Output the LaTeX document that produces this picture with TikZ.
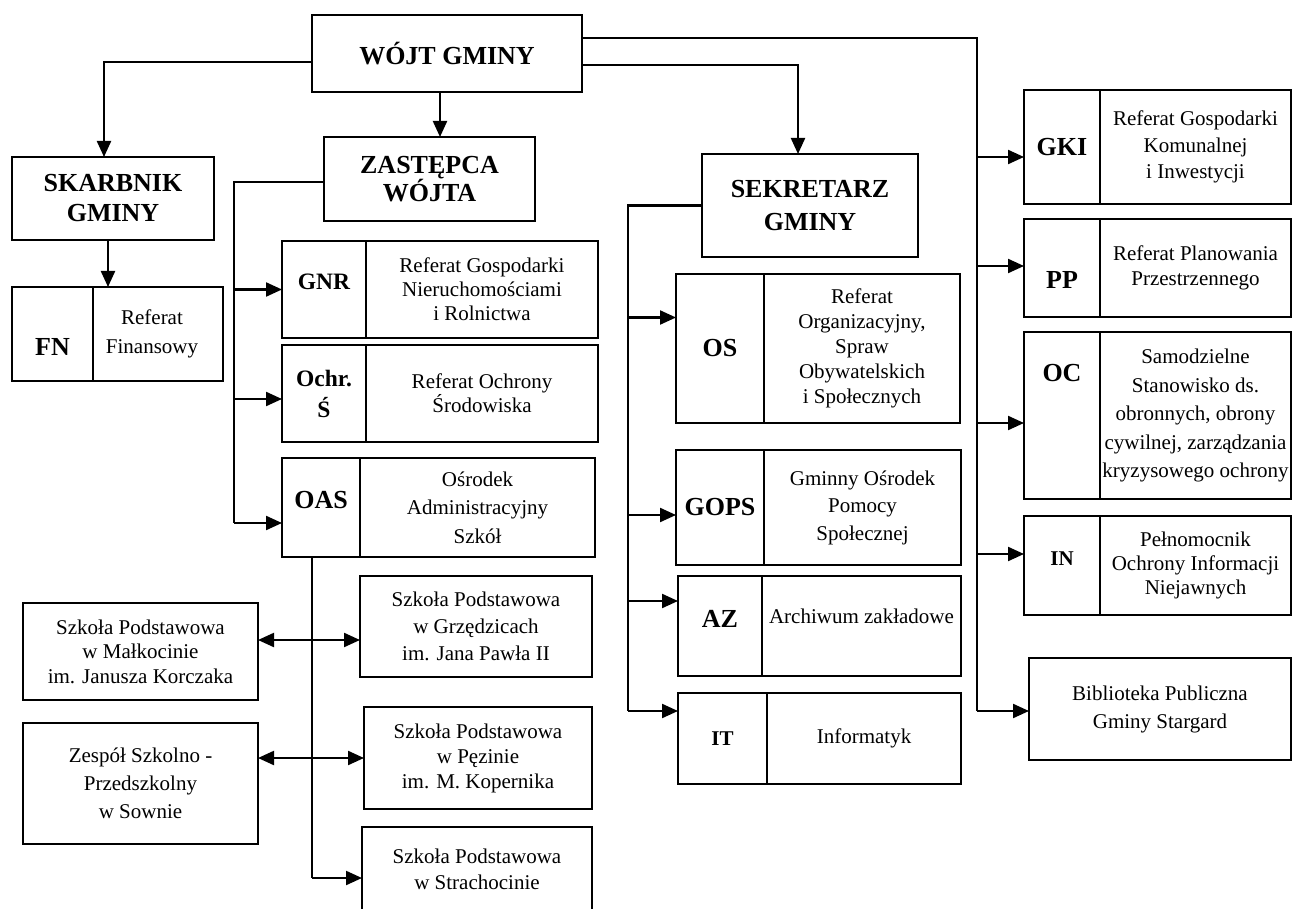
\documentclass[tikz,border=0pt]{standalone}
\usepackage{fontspec}
\setmainfont{Liberation Serif}
\usetikzlibrary{arrows.meta,positioning}
\newcommand{\liftby}[2]{\raisebox{#1}[\height][\depth]{#2}}
\tikzset{
  box/.style={draw, line width=2.2pt, inner sep=0pt, outer sep=0pt, align=center, anchor=north west, font=\fontsize{21}{25}\selectfont},
  head/.style={box, font=\bfseries\fontsize{26}{30}\selectfont},
  code/.style={box, font=\bfseries\fontsize{26}{30}\selectfont},
  conn/.style={line width=2.2pt},
  arr/.style={conn, -{Triangle[length=16pt,width=14pt]}},
  arrs/.style={conn, {Triangle[length=16pt,width=14pt]}-{Triangle[length=16pt,width=14pt]}},
}

\begin{document}
\begin{tikzpicture}[x=1pt, y=-1pt]
    \useasboundingbox (0,0) rectangle (1293,909);

    % Head boxes
    \node[head, minimum width=270pt, minimum height=77pt] (wojt) at (312,15) {WÓJT GMINY};
    \node[head, minimum width=202pt, minimum height=83pt, font=\bfseries\fontsize{26}{30}\selectfont] (skarb) at (12,157) {SKARBNIK\\GMINY};
    \node[head, minimum width=211pt, minimum height=84pt, font=\bfseries\fontsize{26}{26}\selectfont] (zast) at (324,137) {ZASTĘPCA\\WÓJTA};
    \node[head, minimum width=216pt, minimum height=103pt, font=\bfseries\fontsize{26}{33}\selectfont] (sekr) at (702,154) {SEKRETARZ\\GMINY};

    % Skarbnik
    \node[code, minimum width=81pt, minimum height=94pt] (fn) at (12,287) {\liftby{-13pt}{FN}};
    \node[box, minimum width=130pt, minimum height=94pt, font=\fontsize{21}{29}\selectfont] (fnT) at (93,287) {\hspace*{-12pt}Referat\\\hspace*{-12pt}Finansowy};

    % Zastepca
    \node[code, minimum width=84pt, minimum height=97pt, font=\bfseries\fontsize{23.5}{28}\selectfont] (gnr) at (282,241) {\liftby{8pt}{GNR}};
    \node[box, minimum width=232pt, minimum height=97pt, font=\fontsize{21}{24}\selectfont] (gnrT) at (366,241) {Referat Gospodarki\\Nieruchomościami\\i Rolnictwa};
    \node[code, minimum width=84pt, minimum height=97pt, font=\bfseries\fontsize{23.5}{31}\selectfont] (ochr) at (282,345) {Ochr.\\Ś};
    \node[box, minimum width=232pt, minimum height=97pt, font=\fontsize{21}{24}\selectfont] (ochrT) at (366,345) {Referat Ochrony\\Środowiska};
    \node[code, minimum width=78pt, minimum height=99pt] (oas) at (282,458) {\liftby{7pt}{OAS}};
    \node[box, minimum width=235pt, minimum height=99pt, font=\fontsize{21}{28.5}\selectfont] (oasT) at (360,458) {Ośrodek\\Administracyjny\\Szkół};

    % Schools
    \node[box, minimum width=232pt, minimum height=101pt, font=\fontsize{21}{27}\selectfont] (grz) at (360,576) {Szkoła Podstawowa\\w Grzędzicach\\im. Jana Pawła II};
    \node[box, minimum width=228pt, minimum height=102pt] (pez) at (364,707) {Szkoła Podstawowa\\w Pęzinie\\im. M. Kopernika};
    \node[box, minimum width=230pt, minimum height=85pt, font=\fontsize{21}{26}\selectfont] (str) at (362,827) {Szkoła Podstawowa\\w Strachocinie};
    \node[box, minimum width=235pt, minimum height=97pt, font=\fontsize{21}{24.5}\selectfont] (malk) at (23,603) {Szkoła Podstawowa\\w Małkocinie\\im. Janusza Korczaka};
    \node[box, minimum width=235pt, minimum height=121pt, font=\fontsize{21}{28}\selectfont] (sown) at (23,723) {Zespół Szkolno -\\Przedszkolny\\w Sownie};

    % Sekretarz
    \node[code, minimum width=88pt, minimum height=149pt] (os) at (676,274) {OS};
    \node[box, minimum width=196pt, minimum height=149pt] (osT) at (764,274) {Referat\\Organizacyjny,\\Spraw\\Obywatelskich\\i Społecznych};
    \node[code, minimum width=88pt, minimum height=115pt] (gops) at (676,450) {GOPS};
    \node[box, minimum width=197pt, minimum height=115pt, font=\fontsize{21}{27.5}\selectfont] (gopsT) at (764,450) {Gminny Ośrodek\\Pomocy\\Społecznej};
    \node[code, minimum width=84pt, minimum height=100pt] (az) at (678,576) {\liftby{7pt}{AZ}};
    \node[box, minimum width=199pt, minimum height=100pt] (azT) at (762,576) {\liftby{10pt}{Archiwum zakładowe}};
    \node[code, minimum width=89pt, minimum height=91pt, font=\bfseries\fontsize{21}{25}\selectfont] (it) at (678,693) {IT};
    \node[box, minimum width=194pt, minimum height=91pt] (itT) at (767,693) {Informatyk};

    % Right column
    \node[code, minimum width=76pt, minimum height=114pt] (gki) at (1024,90) {GKI};
    \node[box, minimum width=191pt, minimum height=114pt, font=\fontsize{21}{26.5}\selectfont] (gkiT) at (1100,90) {Referat Gospodarki\\Komunalnej\\i Inwestycji};
    \node[code, minimum width=76pt, minimum height=98pt] (pp) at (1024,219) {\liftby{-12pt}{PP}};
    \node[box, minimum width=191pt, minimum height=98pt] (ppT) at (1100,219) {Referat Planowania\\Przestrzennego};
    \node[code, minimum width=76pt, minimum height=167pt] (oc) at (1024,332) {\liftby{42pt}{OC}};
    \node[box, minimum width=191pt, minimum height=167pt, font=\fontsize{21}{28.5}\selectfont] (ocT) at (1100,332) {Samodzielne\\Stanowisko ds.\\obronnych, obrony\\cywilnej, zarządzania\\kryzysowego ochrony};
    \node[code, minimum width=76pt, minimum height=99pt, font=\bfseries\fontsize{21}{25}\selectfont] (inf) at (1024,516) {\liftby{7pt}{IN}};
    \node[box, minimum width=191pt, minimum height=99pt, font=\fontsize{21}{24}\selectfont] (infT) at (1100,516) {Pełnomocnik\\Ochrony Informacji\\Niejawnych};
    \node[box, minimum width=262pt, minimum height=102pt, font=\fontsize{21}{28}\selectfont] (bib) at (1029,658) {Biblioteka Publiczna\\Gminy Stargard};

    % Connector ends
    \coordinate (wL) at ([yshift=-8.5pt]wojt.west);
    \coordinate (wB) at ([xshift=-7pt]wojt.south);
    \coordinate (wR) at ([yshift=-11.5pt]wojt.east);
    \coordinate (wR2) at ([yshift=15.5pt]wojt.east);
    \coordinate (skarbIn) at ([xshift=-9pt]skarb.north);
    \coordinate (sekrIn) at ([xshift=-12pt]sekr.north);
    \coordinate (sB) at ([xshift=-5pt]skarb.south);
    \coordinate (zL) at ([yshift=-3pt]zast.west);
    \coordinate (oB) at ([xshift=-9pt]oas.south);
    \coordinate (rbus) at (977,38);
    \path (sekr.west) -- ++(-74,0) coordinate (sbus);
    \path (zL) -- ++(-90,0) coordinate (zbus);

    \coordinate (gkiIn) at ([yshift=-10pt]gki.west);
    \coordinate (ppIn) at ([yshift=2pt]pp.west);
    \coordinate (ocIn) at ([yshift=-7.5pt]oc.west);
    \coordinate (infIn) at ([yshift=11.5pt]inf.west);
    \coordinate (bibIn) at ([yshift=-2pt]bib.west);
    \coordinate (osIn) at ([yshift=31pt]os.west);
    \coordinate (gopsIn) at ([yshift=-7.5pt]gops.west);
    \coordinate (azIn) at ([yshift=25pt]az.west);
    \coordinate (itIn) at ([yshift=27.5pt]it.west);
    \coordinate (gnrIn) at (gnr.west);
    \coordinate (ochrIn) at ([yshift=-5.5pt]ochr.west);
    \coordinate (oasIn) at ([yshift=-15.5pt]oas.west);
    \coordinate (grzIn) at ([yshift=-13.5pt]grz.west);
    \coordinate (pezIn) at (pez.west);
    \coordinate (strIn) at ([yshift=-8.5pt]str.west);

    % Wojt
    \draw[arr] (wL) -| (skarbIn);
    \draw[arr] (wB) -- (wB |- zast.north);
    \draw[arr] (wR) -| (sekrIn);
    \draw[conn] (wR2) -- (rbus) -- (rbus |- bibIn);
    \foreach \c in {gkiIn,ppIn,ocIn,infIn,bibIn}
        \draw[arr] (rbus |- \c) -- (\c);

    % Skarbnik
    \draw[arr] (sB) -- (sB |- fnT.north);

    % Zastepca
    \draw[conn] (zL) -- (zbus) -- (zbus |- oasIn);
    \foreach \c in {gnrIn,ochrIn,oasIn}
        \draw[arr] (zbus |- \c) -- (\c);

    % Sekretarz
    \draw[conn] (sekr.west) -- (sbus) -- (sbus |- itIn);
    \foreach \c in {osIn,gopsIn,azIn,itIn}
        \draw[arr] (sbus |- \c) -- (\c);

    % Schools
    \draw[conn] (oB) -- (oB |- strIn);
    \draw[arrs] (malk.east |- grzIn) -- (grzIn);
    \draw[arrs] (sown.east |- pezIn) -- (pezIn);
    \draw[arr] (oB |- strIn) -- (strIn);
\end{tikzpicture}
\end{document}
